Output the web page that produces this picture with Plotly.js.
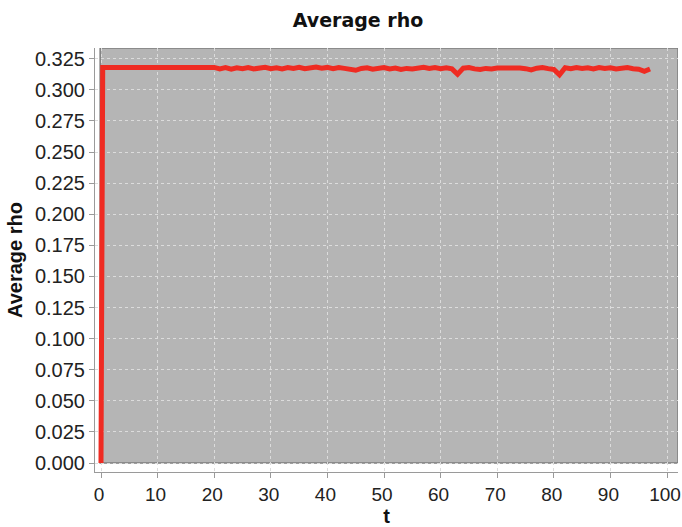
<!DOCTYPE html>
<html>
<head>
<meta charset="utf-8">
<script src="https://cdn.plot.ly/plotly-3.0.1.min.js"></script>
<style>html,body{margin:0;padding:0;background:#fff;}#chart{width:682px;height:527px;}</style>
</head>
<body>
<div id="chart"></div>
<script>
const chartTitle = "Average rho";
const xTitle = "t";
const yTitle = "Average rho";
const t = [0, 0.3];
for (let i = 1; i <= 97; i++) t.push(i);
const rho = [
  0.0000, 0.3180,
  0.3180, 0.3180, 0.3180, 0.3180, 0.3180, 0.3180, 0.3180, 0.3180, 0.3180, 0.3180,
  0.3180, 0.3180, 0.3180, 0.3180, 0.3180, 0.3180, 0.3180, 0.3180, 0.3180, 0.3180,
  0.3168, 0.3178, 0.3166, 0.3177, 0.3170, 0.3179, 0.3168, 0.3175, 0.3181, 0.3170,
  0.3177, 0.3168, 0.3179, 0.3172, 0.3181, 0.3170, 0.3177, 0.3183, 0.3173, 0.3180,
  0.3170, 0.3179, 0.3172, 0.3166, 0.3157, 0.3172, 0.3177, 0.3166, 0.3174, 0.3179,
  0.3168, 0.3175, 0.3163, 0.3172, 0.3168, 0.3177, 0.3181, 0.3172, 0.3179, 0.3170,
  0.3177, 0.3168, 0.3125, 0.3174, 0.3179, 0.3168, 0.3164, 0.3172, 0.3168, 0.3175,
  0.3177, 0.3170, 0.3179, 0.3176, 0.3170, 0.3160, 0.3174, 0.3179, 0.3170, 0.3164,
  0.3121, 0.3177, 0.3170, 0.3179, 0.3172, 0.3177, 0.3168, 0.3179, 0.3172, 0.3177,
  0.3168, 0.3177, 0.3179, 0.3170, 0.3166, 0.3148, 0.3167
];
const xTickVals = [0,10,20,30,40,50,60,70,80,90,100];
const yTickVals = [0,0.025,0.05,0.075,0.1,0.125,0.15,0.175,0.2,0.225,0.25,0.275,0.3,0.325];

const xRange = [-1.06, 101.94];
const yRange = [-0.00723, 0.3336];

const trace = {
  x: t, y: rho, type: 'scatter', mode: 'lines',
  line: {color: '#ef2b22', width: 5},
  hoverinfo: 'skip'
};

const yTickFont = {family: 'Liberation Sans, Arial, sans-serif', size: 20, color: '#222'};
const xTickFont = {family: 'Liberation Sans, Arial, sans-serif', size: 19, color: '#222'};

const layout = {
  width: 682, height: 527,
  margin: {l: 95, r: 4, t: 48, b: 55},
  paper_bgcolor: '#ffffff',
  plot_bgcolor: '#ffffff',
  showlegend: false,
  title: {
    text: chartTitle,
    font: {family: 'DejaVu Sans, sans-serif', size: 19, color: '#111', weight: 'bold'},
    x: 0.525, xanchor: 'center', y: 0.962, yanchor: 'middle', yref: 'container'
  },
  xaxis: {
    range: xRange, tickvals: xTickVals, ticktext: xTickVals.map(String),
    showline: true, linecolor: '#9a9a9a', linewidth: 1,
    ticks: 'outside', ticklen: 5, tickcolor: '#9a9a9a',
    showgrid: true, gridcolor: '#dcdcdc', griddash: '3px,3px', gridwidth: 1,
    zeroline: false, tickfont: xTickFont, ticklabeloverflow: 'allow', ticklabelshift: -2,
    title: {text: xTitle, font: {family: 'Liberation Sans, Arial, sans-serif', size: 20, color: '#111', weight: 'bold'}, standoff: 4}
  },
  yaxis: {
    range: yRange, tickvals: yTickVals, ticktext: yTickVals.map(v => v.toFixed(3)),
    showline: true, linecolor: '#9a9a9a', linewidth: 1,
    ticks: 'outside', ticklen: 5, tickcolor: '#9a9a9a',
    showgrid: true, gridcolor: '#dcdcdc', griddash: '3px,3px', gridwidth: 1,
    zeroline: false, tickfont: yTickFont, ticklabeloverflow: 'allow',
    title: {text: yTitle, font: {family: 'Liberation Sans, Arial, sans-serif', size: 20, color: '#111', weight: 'bold'}, standoff: 6}
  },
  shapes: [{
    type: 'rect', xref: 'x', yref: 'y', layer: 'below',
    x0: -0.15, x1: xRange[1], y0: 0, y1: yRange[1],
    fillcolor: '#b5b5b5', line: {color: '#7d7d7d', width: 1.5}
  }]
};

Plotly.newPlot('chart', [trace], layout, {staticPlot: true, displayModeBar: false});
</script>
</body>
</html>
